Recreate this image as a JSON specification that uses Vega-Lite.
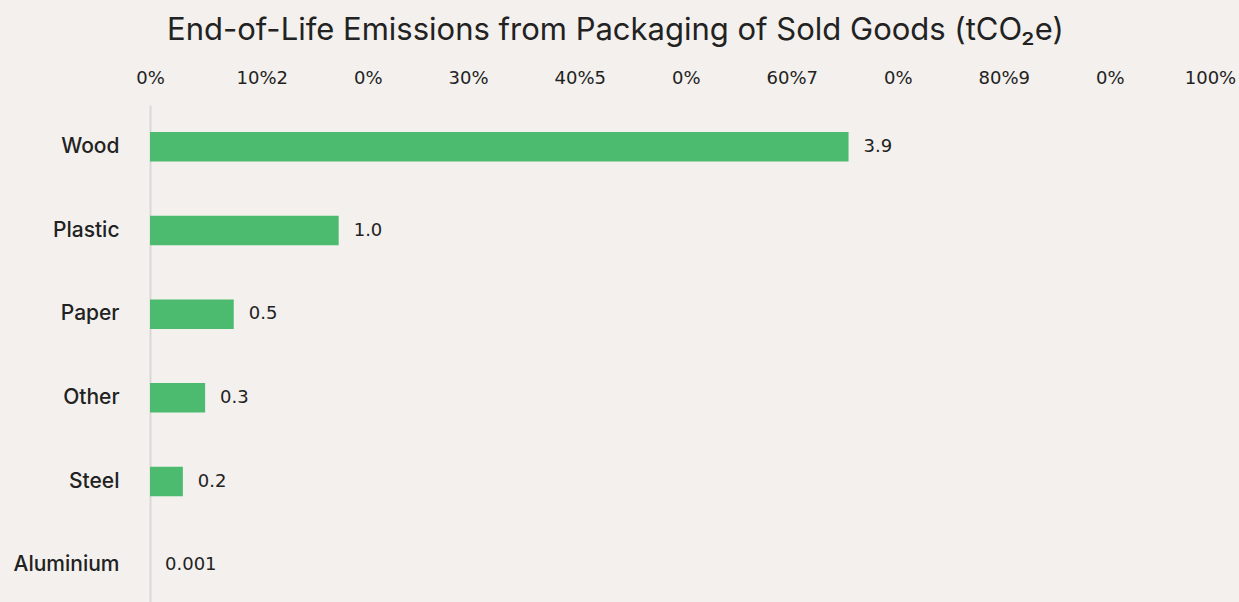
{
  "$schema": "https://vega.github.io/schema/vega-lite/v6.json",
  "width": 1060,
  "height": 502,
  "autosize": {"type": "none"},
  "padding": {"left": 150, "top": 105, "right": 29, "bottom": 0},
  "background": "#F3F0ED",
  "config": {
    "view": {"stroke": null},
    "font": "Inter"
  },
  "title": {
    "text": "End-of-Life Emissions from Packaging of Sold Goods (tCO₂e)",
    "anchor": "start",
    "frame": "group",
    "dx": 17,
    "font": "Inter",
    "fontSize": 31,
    "fontWeight": 400,
    "color": "#222222",
    "offset": 22
  },
  "data": {
    "values": [
      {"material": "Wood", "share": 65.9, "label": "3.9"},
      {"material": "Plastic", "share": 17.8, "label": "1.0"},
      {"material": "Paper", "share": 7.9, "label": "0.5"},
      {"material": "Other", "share": 5.2, "label": "0.3"},
      {"material": "Steel", "share": 3.1, "label": "0.2"},
      {"material": "Aluminium", "share": 0, "label": "0.001"}
    ]
  },
  "encoding": {
    "y": {
      "field": "material",
      "type": "nominal",
      "sort": null,
      "scale": {"paddingInner": 0.647, "paddingOuter": 0.3235},
      "axis": {
        "title": null,
        "domain": true,
        "domainColor": "#D9D9D9",
        "domainWidth": 2,
        "ticks": false,
        "labelFont": "Inter",
        "labelFontSize": 21,
        "labelFontWeight": 500,
        "labelColor": "#222222",
        "labelPadding": 31
      }
    },
    "x": {
      "field": "share",
      "type": "quantitative",
      "scale": {"domain": [0, 100], "nice": false},
      "axis": {
        "orient": "top",
        "title": null,
        "domain": false,
        "ticks": false,
        "grid": false,
        "values": [0, 10, 20, 30, 40, 50, 60, 70, 80, 90, 100],
        "labelExpr": "datum.value == 10 ? '10%2' : datum.value == 40 ? '40%5' : datum.value == 60 ? '60%7' : datum.value == 80 ? '80%9' : (datum.value == 20 || datum.value == 50 || datum.value == 70 || datum.value == 90) ? '0%' : datum.value + '%'",
        "labelAlign": {
          "condition": [
            {"test": "datum.value == 20 || datum.value == 50 || datum.value == 70 || datum.value == 90", "value": "right"},
            {"test": "datum.value == 10 || datum.value == 40 || datum.value == 60 || datum.value == 80", "value": "left"}
          ],
          "value": "center"
        },
        "labelOffset": {
          "condition": [
            {"test": "datum.value == 20 || datum.value == 50 || datum.value == 70 || datum.value == 90", "value": 20},
            {"test": "datum.value == 10 || datum.value == 40 || datum.value == 60 || datum.value == 80", "value": -20}
          ],
          "value": 0
        },
        "labelFont": "DejaVu Sans",
        "labelFontSize": 18,
        "labelColor": "#222222",
        "labelPadding": 18,
        "labelFlush": false,
        "labelOverlap": false
      }
    }
  },
  "layer": [
    {
      "mark": {"type": "bar", "color": "#4CBB6F"}
    },
    {
      "mark": {"type": "text", "align": "left", "baseline": "middle", "dx": 15, "font": "DejaVu Sans", "fontSize": 18, "color": "#222222"},
      "encoding": {"text": {"field": "label"}}
    }
  ]
}
